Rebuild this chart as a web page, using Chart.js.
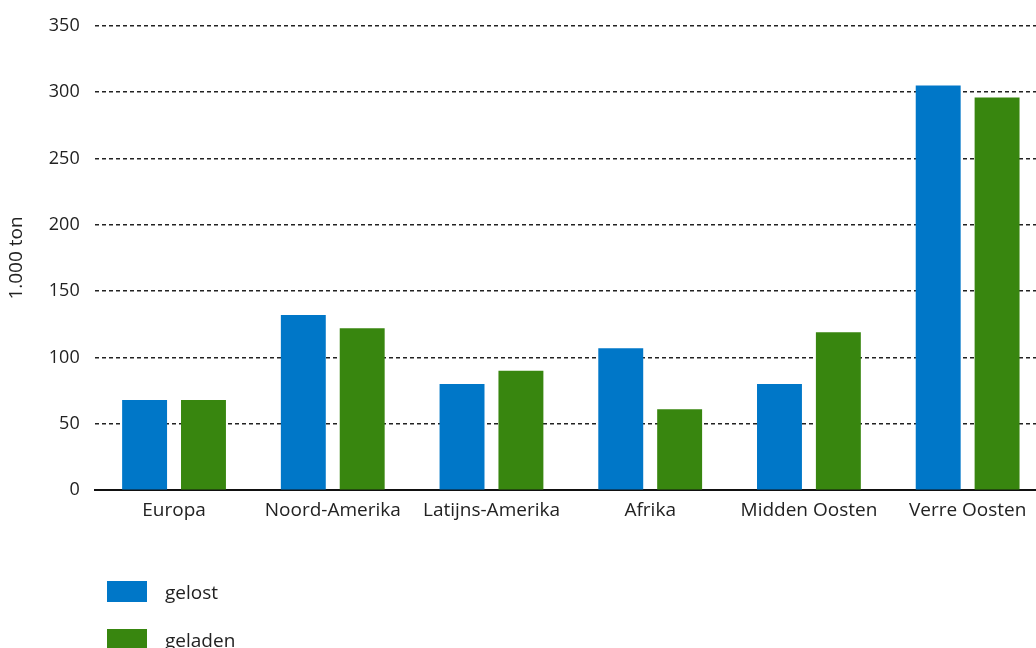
<!DOCTYPE html>
<html>
<head>
<meta charset="utf-8">
<script src="https://cdn.jsdelivr.net/npm/chart.js@4"></script>
<style>
  html, body { margin: 0; padding: 0; background: #fff; }
  #wrap { position: relative; width: 1036px; height: 648px; overflow: hidden; }
  #legend { position: absolute; left: 107px; top: 581px; font-family: "Open Sans", sans-serif; font-size: 19px; color: #222; }
  .item { display: flex; align-items: center; height: 21px; margin-bottom: 27px; }
  .box { width: 40px; height: 21px; margin-right: 18px; }
</style>
</head>
<body>
<div id="wrap">
  <canvas id="chart" width="1050" height="648"></canvas>
  <div id="legend"></div>
</div>
<script>
const categories = ['Europa', 'Noord-Amerika', 'Latijns-Amerika', 'Afrika', 'Midden Oosten', 'Verre Oosten'];
const gelost = [68, 132, 80, 107, 80, 305];
const geladen = [68, 122, 90, 61, 119, 296];
const yTicks = [0, 50, 100, 150, 200, 250, 300, 350];

const ctx = document.getElementById('chart').getContext('2d');
const chart = new Chart(ctx, {
    type: 'bar',
    data: {
        labels: categories,
        datasets: [
            { label: 'gelost', data: gelost, backgroundColor: '#0077c8', categoryPercentage: 0.742, barPercentage: 0.763 },
            { label: 'geladen', data: geladen, backgroundColor: '#38860f', categoryPercentage: 0.742, barPercentage: 0.763 },
        ],
    },
    options: {
        responsive: false,
        animation: false,
        layout: { padding: { top: 15, right: 3, bottom: 125, left: 5 } },
        plugins: {
            legend: { display: false },
            tooltip: { enabled: false },
        },
        scales: {
            x: {
                grid: { display: false },
                border: { color: '#111', width: 2 },
                ticks: { color: '#222', font: { family: 'Open Sans', size: 19 }, padding: 1 },
            },
            y: {
                min: 0,
                max: 350,
                afterBuildTicks: axis => { axis.ticks = yTicks.map(v => ({ value: v })); },
                border: { display: false, dash: [4, 3] },
                grid: {
                    color: ctx => ctx.tick && ctx.tick.value === 0 ? 'rgba(0,0,0,0)' : '#222',
                    lineWidth: 1.5,
                    drawTicks: false,
                },
                ticks: { color: '#222', font: { family: 'Open Sans', size: 18 }, padding: 15 },
                title: {
                    display: true,
                    text: '1.000 ton',
                    color: '#222',
                    font: { family: 'Open Sans', size: 19 },
                    padding: { top: 0, bottom: 6 },
                },
            },
        },
    },
});

const legend = document.getElementById('legend');
chart.data.datasets.forEach(ds => {
    const item = document.createElement('div');
    item.className = 'item';
    item.innerHTML = '<div class="box" style="background:' + ds.backgroundColor + '"></div><span>' + ds.label + '</span>';
    legend.appendChild(item);
});
</script>
</body>
</html>
